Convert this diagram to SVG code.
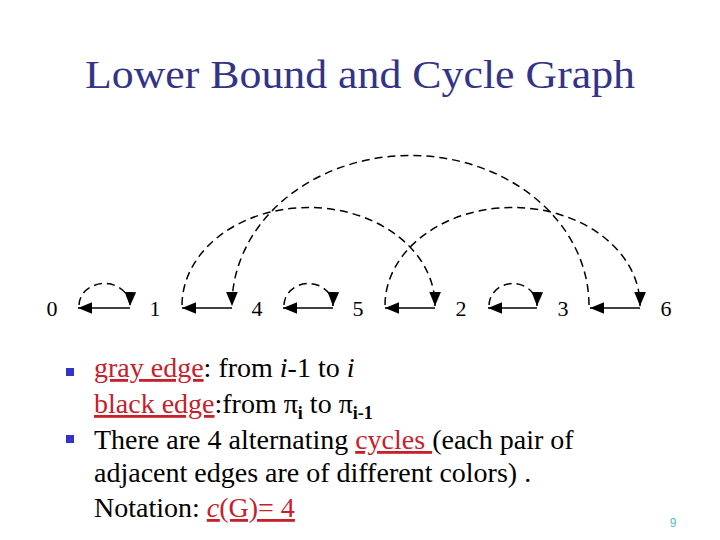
<svg xmlns="http://www.w3.org/2000/svg" width="720" height="540" viewBox="0 0 720 540">
<style>
.title{font-family:"Liberation Serif","Times New Roman",serif;font-size:41px;fill:#333388}
.lbl{font-family:"Liberation Serif","Times New Roman",serif;font-size:22px;fill:#000;text-anchor:middle}
.txt{font-family:"Liberation Serif","Times New Roman",serif;font-size:28px;fill:#000}
.red{fill:#c8202a;text-decoration:underline}
.gray{fill:none;stroke:#000;stroke-width:1.5;stroke-dasharray:8,5}
.blk{fill:none;stroke:#000;stroke-width:1.5}
.bul{fill:#3333cc}
</style>
<defs>
<marker id="ah" markerUnits="userSpaceOnUse" markerWidth="14" markerHeight="12" refX="12" refY="5" orient="auto" viewBox="0 0 12 10">
<path d="M0,0 L12,5 L0,10 z" fill="#000"/>
</marker>
</defs>
<rect width="720" height="540" fill="#fff"/>
<text class="title" x="85" y="88" textLength="550" lengthAdjust="spacingAndGlyphs">Lower Bound and Cycle Graph</text>
<g id="nodes">
<g id="n0"><text class="lbl" x="52" y="316">0</text></g>
<g id="n1"><text class="lbl" x="155" y="316">1</text></g>
<g id="n4"><text class="lbl" x="257" y="316">4</text></g>
<g id="n5"><text class="lbl" x="358" y="316">5</text></g>
<g id="n2"><text class="lbl" x="461" y="316">2</text></g>
<g id="n3"><text class="lbl" x="563" y="316">3</text></g>
<g id="n6"><text class="lbl" x="666" y="316">6</text></g>
</g>
<g id="connectors">
<path class="blk" d="M130,308 L78,308" marker-end="url(#ah)"/>
<path class="blk" d="M232,308 L182,308" marker-end="url(#ah)"/>
<path class="blk" d="M333,308 L283,308" marker-end="url(#ah)"/>
<path class="blk" d="M435,308 L385,308" marker-end="url(#ah)"/>
<path class="blk" d="M537,308 L488,308" marker-end="url(#ah)"/>
<path class="blk" d="M640,308 L590,308" marker-end="url(#ah)"/>
<path class="gray" d="M79,305 A25.5,22 0 0 1 130,306" marker-end="url(#ah)"/>
<path class="gray" d="M284,305 A24.5,22 0 0 1 333,306" marker-end="url(#ah)"/>
<path class="gray" d="M489,305 A24,22 0 0 1 537,306" marker-end="url(#ah)"/>
<path class="gray" d="M182,305 A126.5,98 0 0 1 435,306" marker-end="url(#ah)"/>
<path class="gray" d="M589,305 A178.5,150 0 0 0 232,306" marker-end="url(#ah)"/>
<path class="gray" d="M385,305 A127.5,98 0 0 1 640,306" marker-end="url(#ah)"/>
</g>
<rect class="bul" x="66" y="368" width="8" height="8"/>
<rect class="bul" x="66" y="435" width="8" height="8"/>
<text class="txt" x="94" y="377"><tspan class="red">gray edge</tspan>: from <tspan font-style="italic">i</tspan>-1 to <tspan font-style="italic">i</tspan></text>
<text class="txt" x="94" y="413"><tspan class="red">black edge</tspan>:from π<tspan font-size="18" dy="6" font-weight="bold">i</tspan><tspan dy="-6"> to π</tspan><tspan font-size="18" dy="6" font-weight="bold">i-1</tspan></text>
<text class="txt" x="94" y="449">There are 4 alternating <tspan class="red">cycles </tspan>(each pair of</text>
<text class="txt" x="94" y="482">adjacent edges are of different colors) .</text>
<text class="txt" x="94" y="517">Notation: <tspan class="red"><tspan font-style="italic">c</tspan>(G)= 4</tspan></text>
<text x="673" y="527" font-family="Liberation Sans,Arial,sans-serif" font-size="12" fill="#5ab8c0" text-anchor="middle">9</text>
</svg>
